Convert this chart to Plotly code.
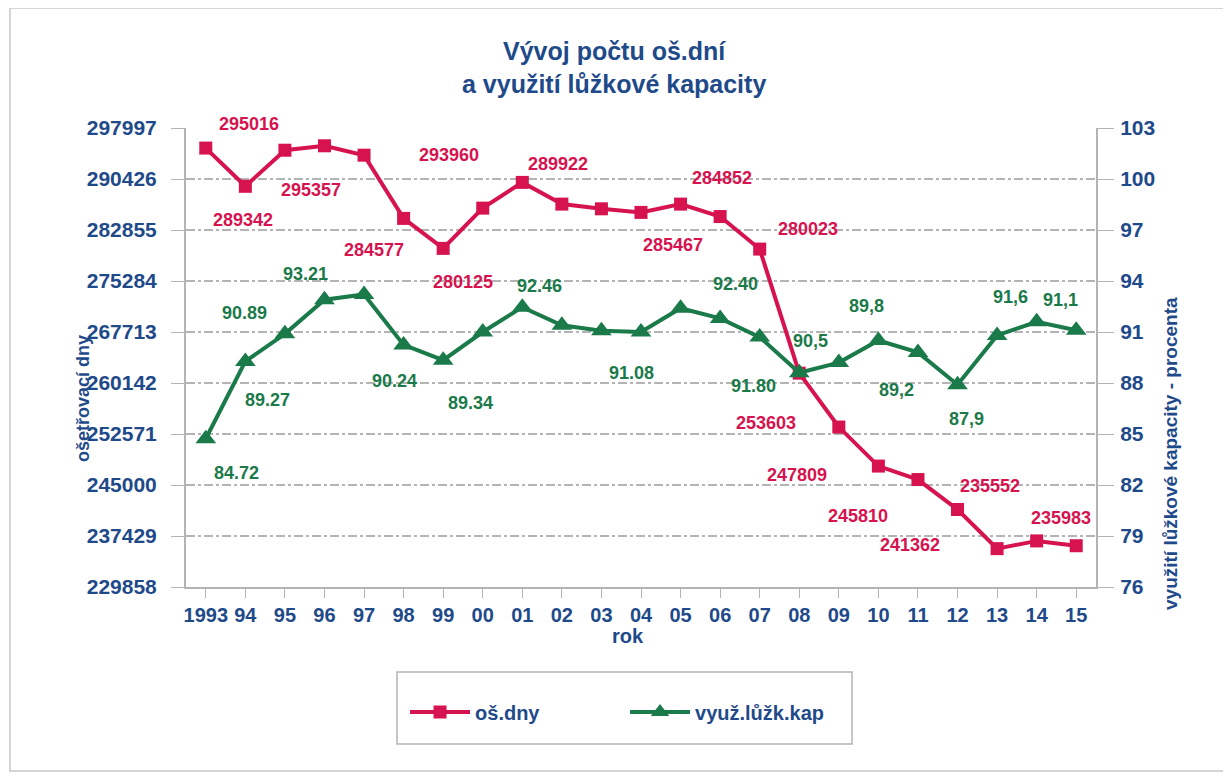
import plotly.graph_objects as go

years = ["1993", "94", "95", "96", "97", "98", "99", "00", "01", "02", "03", "04",
         "05", "06", "07", "08", "09", "10", "11", "12", "13", "14", "15"]
os_dny = [295016, 289342, 294700, 295357, 293960, 284577, 280125, 286100, 289922,
          286700, 286000, 285467, 286700, 284852, 280023, 261600, 253603, 247809,
          245810, 241362, 235552, 236700, 235983]
vyuziti = [84.72, 89.27, 90.89, 92.9, 93.21, 90.24, 89.34, 91.0, 92.46, 91.4, 91.08,
           91.0, 92.40, 91.80, 90.7, 88.6, 89.2, 90.5, 89.8, 87.9, 90.8, 91.6, 91.1]
left_ticks = [229858, 237429, 245000, 252571, 260142, 267713, 275284, 282855, 290426, 297997]
right_ticks = [76, 79, 82, 85, 88, 91, 94, 97, 100, 103]

# data labels: (point index, text) as printed in the source chart
red_labels = [(0, "295016"), (1, "289342"), (3, "295357"), (4, "293960"), (5, "284577"),
              (6, "280125"), (8, "289922"), (13, "284852"), (11, "285467"), (14, "280023"),
              (16, "253603"), (17, "247809"), (18, "245810"), (19, "241362"),
              (20, "235552"), (22, "235983")]
green_labels = [(0, "84.72"), (2, "90.89"), (1, "89.27"), (4, "93.21"), (5, "90.24"),
                (6, "89.34"), (8, "92.46"), (10, "91.08"), (12, "92.40"), (13, "91.80"),
                (17, "90,5"), (18, "89,8"), (16, "89,2"), (19, "87,9"), (21, "91,6"),
                (22, "91,1")]
# label pixel offsets (dx, dy) relative to their point
red_off = [(43, -24), (-2, 34), (-13, 44), (85, 0), (-30, 32), (20, 34), (36, -18),
           (2, -39), (32, 33), (48, -20), (-73, -4), (-81, 9), (-60, 36), (-48, 35),
           (-7, -63), (-15, -28)]
green_off = [(31, 34), (-40, -21), (22, 39), (-59, -20), (-9, 36), (27, 43), (17, -21),
             (30, 42), (55, -24), (33, 68), (-68, 0), (-51, -46), (58, 27), (9, 34),
             (-26, -25), (-16, -30)]

RED = "#d6134f"
GREEN = "#1b7a4a"
BLUE = "#1f4a8a"
GRAY = "#b4b4b4"
FONT = "Liberation Sans"

fig = go.Figure()
fig.add_trace(go.Scatter(x=years, y=os_dny, name="<b>oš.dny</b>", mode="lines+markers",
                         line=dict(color=RED, width=4),
                         marker=dict(symbol="square", size=13, color=RED),
                         yaxis="y"))
fig.add_trace(go.Scatter(x=years, y=vyuziti, name="<b>využ.lůžk.kap</b>", mode="lines+markers",
                         line=dict(color=GREEN, width=4),
                         marker=dict(symbol="triangle-up", size=18, color=GREEN),
                         yaxis="y2"))

ann = []
for (i, t), (dx, dy) in zip(red_labels, red_off):
    ann.append(dict(x=i, y=os_dny[i], xref="x", yref="y", text="<b>%s</b>" % t,
                    showarrow=False, xshift=dx, yshift=-dy,
                    font=dict(family=FONT, size=18, color=RED)))
for (i, t), (dx, dy) in zip(green_labels, green_off):
    ann.append(dict(x=i, y=vyuziti[i], xref="x", yref="y2", text="<b>%s</b>" % t,
                    showarrow=False, xshift=dx, yshift=-dy,
                    font=dict(family=FONT, size=18, color=GREEN)))
ann.append(dict(x=0.4703, y=1.1318, xref="paper", yref="paper",
                text="<b>Vývoj počtu oš.dní<br>a využití lůžkové kapacity</b>",
                showarrow=False, xanchor="center", yanchor="middle",
                font=dict(family=FONT, size=25, color=BLUE)))
ann.append(dict(x=-0.1132, y=0.4118, xref="paper", yref="paper",
                text="<b>ošetřovací dny</b>", textangle=-90, showarrow=False,
                xanchor="center", yanchor="middle",
                font=dict(family=FONT, size=18, color=BLUE)))
ann.append(dict(x=1.0813, y=0.2919, xref="paper", yref="paper",
                text="<b>využití lůžkové kapacity - procenta</b>",
                textangle=-90, showarrow=False, xanchor="center", yanchor="middle",
                font=dict(family=FONT, size=19, color=BLUE)))
ann.append(dict(x=0.4857, y=-0.1068, xref="paper", yref="paper", text="<b>rok</b>",
                showarrow=False, xanchor="center", yanchor="middle",
                font=dict(family=FONT, size=20, color=BLUE)))

fig.update_layout(
    width=1223, height=768,
    margin=dict(l=178, r=135, t=120, b=189),
    paper_bgcolor="white", plot_bgcolor="white",
    font=dict(family=FONT, color=BLUE),
    xaxis=dict(type="category", range=[-0.5, 22.5], showline=True, linecolor=GRAY,
               linewidth=2, ticks="outside", ticklen=9, tickcolor=GRAY,
               showgrid=False,
               tickvals=years, ticktext=["<b>%s</b>" % y for y in years],
               tickfont=dict(family=FONT, size=20, color=BLUE)),
    yaxis=dict(range=[229858, 297997], tickvals=left_ticks,
               ticktext=["<b>%d</b>" % v for v in left_ticks],
               showline=True, linecolor=GRAY, linewidth=2,
               ticks="outside", ticklen=13, tickcolor=GRAY, ticklabelstandoff=10,
               showgrid=True, gridcolor=GRAY, griddash="dashdot", gridwidth=1.5,
               zeroline=False,
               tickfont=dict(family=FONT, size=21, color=BLUE)),
    yaxis2=dict(range=[76, 103], tickvals=right_ticks,
                ticktext=["<b>%d</b>" % v for v in right_ticks],
                overlaying="y", side="right",
                showline=True, linecolor=GRAY, linewidth=2,
                ticks="outside", ticklen=16, tickcolor=GRAY, ticklabelstandoff=2,
                showgrid=False, zeroline=False,
                tickfont=dict(family=FONT, size=21, color=BLUE)),
    legend=dict(orientation="h", x=0.2407, xanchor="left", y=-0.2723, yanchor="middle",
                borderwidth=0, entrywidth=145, itemwidth=60,
                font=dict(family=FONT, size=20, color=BLUE)),
    annotations=ann,
    showlegend=True,
)
# legend frame and outer frame
fig.add_shape(type="rect", xref="paper", yref="paper",
              x0=0.2319, x1=0.7319, y0=-0.3420, y1=-0.1852,
              line=dict(color=GRAY, width=1.5))
fig.add_shape(type="rect", xref="paper", yref="paper",
              x0=-0.1934, x1=1.145, y0=-0.401, y1=1.2614,
              line=dict(color="#c8c8c8", width=1.5))

fig.write_html("out.html")
